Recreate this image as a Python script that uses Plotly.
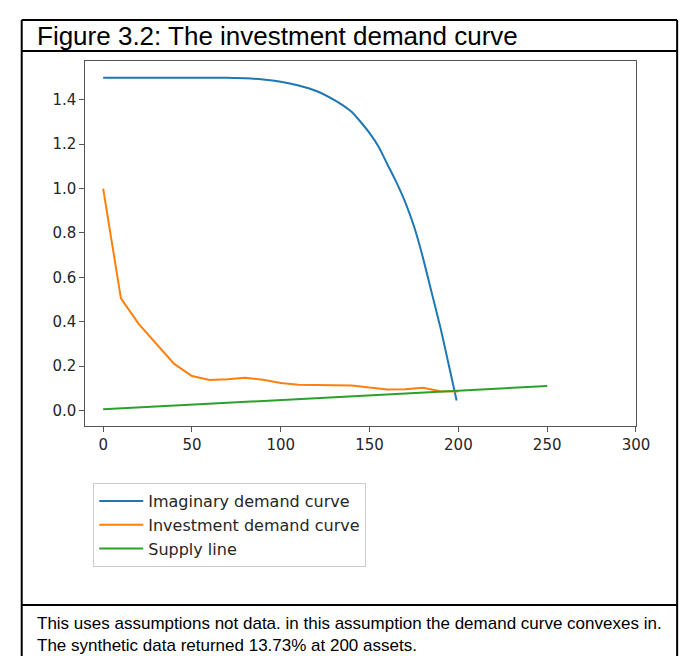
import plotly.graph_objects as go

# ---- data ----
imag_x = [0, 10, 20, 30, 40, 50, 60, 70, 80, 90, 100, 110, 120, 130, 135, 140,
          145, 150, 155, 160, 165, 170, 175, 180, 185, 190, 195, 199]
imag_y = [1.5, 1.5, 1.5, 1.5, 1.5, 1.5, 1.5, 1.499, 1.497, 1.492, 1.482, 1.465,
          1.44, 1.40, 1.375, 1.345, 1.30, 1.25, 1.19, 1.11, 1.03, 0.94, 0.83,
          0.69, 0.53, 0.37, 0.19, 0.045]

inv_x = [0, 10, 20, 30, 40, 50, 60, 70, 80, 90, 100, 110, 120, 130, 140, 150,
         160, 170, 180, 190, 200]
inv_y = [1.0, 0.505, 0.39, 0.30, 0.21, 0.155, 0.137, 0.141, 0.147, 0.138,
         0.124, 0.116, 0.115, 0.117, 0.113, 0.103, 0.095, 0.096, 0.102, 0.087,
         0.085]

supply_x = [0, 250]
supply_y = [0.005, 0.11]

series_names = ["Imaginary demand curve", "Investment demand curve", "Supply line"]
x_ticks = [0, 50, 100, 150, 200, 250, 300]
y_ticks = [0.0, 0.2, 0.4, 0.6, 0.8, 1.0, 1.2, 1.4]

title_text = "Figure 3.2: The investment demand curve"
footer_lines = [
    "This uses assumptions not data. in this assumption the demand curve convexes in.",
    "The synthetic data returned 13.73% at 200 assets.",
]

# ---- layout helpers ----
W, H = 690, 656


def px(x):
    return x / W


def py(y):
    return 1 - y / H


colors = ["#1f77b4", "#ff7f0e", "#2ca02c"]
shapes_ = ["spline", "linear", "linear"]

fig = go.Figure()
for xs, ys, name, c, shp in zip([imag_x, inv_x, supply_x], [imag_y, inv_y, supply_y],
                                series_names, colors, shapes_):
    fig.add_trace(go.Scatter(x=xs, y=ys, mode="lines", name=name,
                             line=dict(color=c, width=2, shape=shp, smoothing=0.6)))

axis_common = dict(showline=True, linecolor="#555555", linewidth=1, mirror=True,
                   ticks="outside", ticklen=5, tickcolor="#555555", tickwidth=1,
                   showgrid=False, zeroline=False,
                   tickfont=dict(family="DejaVu Sans", size=15, color="#262626"))

fig.update_layout(
    width=W, height=H, autosize=False,
    margin=dict(l=0, r=0, t=0, b=0),
    paper_bgcolor="white", plot_bgcolor="white",
    xaxis=dict(domain=[px(79), px(641)], range=[-10, 300], tickvals=x_ticks,
               **axis_common),
    yaxis=dict(domain=[py(418), py(53)], range=[-0.07, 1.575], tickvals=y_ticks,
               tickformat=".1f", **axis_common),
    showlegend=True,
    legend=dict(x=px(87), y=py(475), xanchor="left", yanchor="top",
                bordercolor="#cccccc", borderwidth=1, bgcolor="white",
                itemwidth=44,
                font=dict(family="DejaVu Sans", size=16, color="#262626")),
)

# borders of the figure table
border = dict(color="black", width=2)
lines = [
    (14, 12, 683, 12),
    (14, 12, 14, 660),
    (683, 12, 683, 660),
    (14, 43, 683, 43),
    (14, 597, 683, 597),
]
for x0, y0, x1, y1 in lines:
    fig.add_shape(type="line", xref="paper", yref="paper",
                  x0=px(x0), y0=py(y0), x1=px(x1), y1=py(y1), line=border)

fig.add_annotation(text=title_text, xref="paper", yref="paper", x=px(28), y=py(28),
                   xanchor="left", yanchor="middle", showarrow=False,
                   font=dict(family="Liberation Sans", size=26, color="black"))
for txt, yy in zip(footer_lines, [615, 637]):
    fig.add_annotation(text=txt, xref="paper", yref="paper", x=px(28), y=py(yy),
                       xanchor="left", yanchor="middle", showarrow=False,
                       font=dict(family="Liberation Sans", size=17, color="black"))

fig.write_html("out.html")
